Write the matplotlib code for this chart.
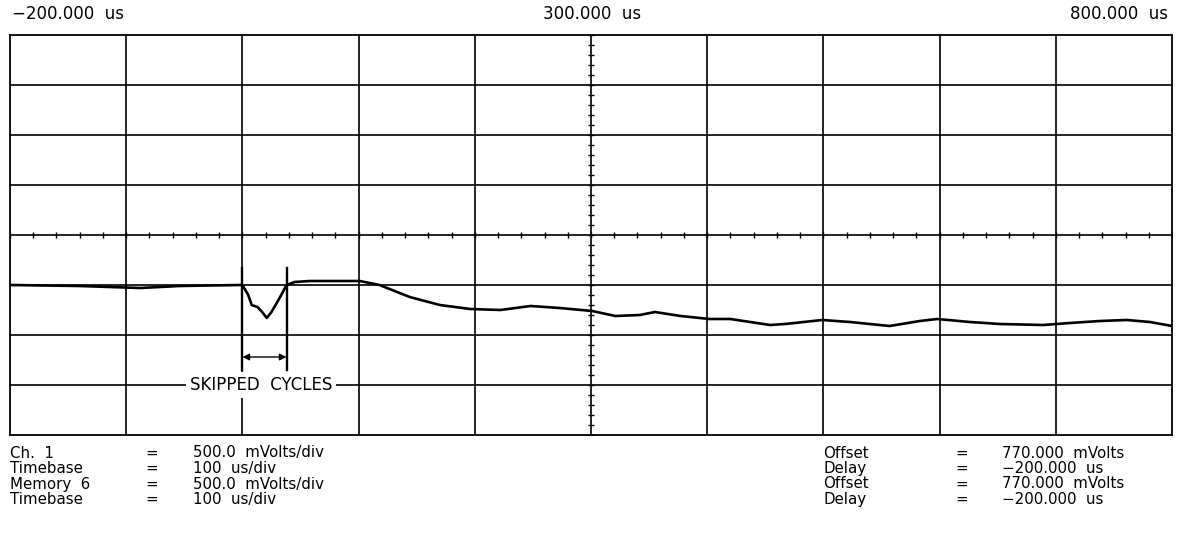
import numpy as np
import matplotlib.pyplot as plt

# trace: time in us, level in mV
t_us = [-200, -140, -88, -54, -2, 0, 5, 8, 13, 17, 21, 25, 32, 38, 45, 58, 84, 101,
        118, 144, 170, 196, 222, 248, 273, 301, 321, 342, 355, 377, 402, 420, 454,
        467, 499, 523, 557, 583, 598, 626, 652, 689, 712, 738, 761, 781, 800]
v_mv = [270, 260, 240, 260, 270, 270, 170, 70, 50, 0, -60, 0, 140, 270, 300, 310, 310, 310,
        270, 150, 70, 30, 20, 60, 40, 10, -40, -30, 0, -40, -70, -70, -130,
        -120, -80, -100, -140, -90, -70, -100, -120, -130, -110, -90, -80, -100, -140]

t_start, t_div = -200.0, 100.0
offset, v_div = 770.0, 500.0
skip_t = [0, 38]

left_rows = [("Ch.  1", "500.0  mVolts/div"), ("Timebase", "100  us/div"),
             ("Memory  6", "500.0  mVolts/div"), ("Timebase", "100  us/div")]
right_rows = [("Offset", "770.000  mVolts"), ("Delay", "\u2212200.000  us"),
              ("Offset", "770.000  mVolts"), ("Delay", "\u2212200.000  us")]

fig = plt.figure(figsize=(11.8, 5.35), dpi=100)
ax = fig.add_axes([10/1180, 100/535, 1162/1180, 400/535])
t0, t1 = t_start, t_start + 10*t_div
v0, v1 = offset - 4*v_div, offset + 4*v_div
ax.set_xlim(t0, t1)
ax.set_ylim(v0, v1)
ax.set_xticks([])
ax.set_yticks([])
for s in ax.spines.values():
    s.set_linewidth(1.3)

lw = 1.2
for k in range(1, 10):
    ax.axvline(t0 + k*t_div, color='k', lw=lw, zorder=1)
for k in range(1, 8):
    ax.axhline(v0 + k*v_div, color='k', lw=lw, zorder=1)

# minor ticks on the centre lines
tc = t0 + 5*t_div
tx = np.arange(t0, t1 + 1, t_div/5)
vy = np.arange(v0, v1 + 1, v_div/5)
ax.plot(tx, np.full(len(tx), offset), '|', color='k', ms=5, mew=1.0, zorder=1)
ax.plot(np.full(len(vy), tc), vy, '_', color='k', ms=5, mew=1.0, zorder=1)

ax.plot(t_us, v_mv, color='k', lw=1.9, zorder=3)

# skipped cycles marker
for t in skip_t:
    ax.plot([t, t], [440, -580], color='k', lw=1.7, zorder=3)
ax.annotate('', xy=(skip_t[0], -450), xytext=(skip_t[1], -450),
            arrowprops=dict(arrowstyle='<|-|>', color='k', lw=1.0,
                            mutation_scale=10, shrinkA=0, shrinkB=0), zorder=3)
fs = 12
ax.text(16, -730, "SKIPPED  CYCLES", ha='center', va='center', fontsize=fs,
        bbox=dict(facecolor='white', edgecolor='none', pad=3), zorder=4)

fig.text(12/1180, 1 - 14/535, "\u2212200.000  us", ha='left', va='center', fontsize=fs)
fig.text(592/1180, 1 - 14/535, "300.000  us", ha='center', va='center', fontsize=fs)
fig.text(1168/1180, 1 - 14/535, "800.000  us", ha='right', va='center', fontsize=fs)

fs2 = 10.8
row_y = [453, 468.5, 484, 499.5]
for (lab, val), y in zip(left_rows, row_y):
    fig.text(10/1180, 1 - y/535, lab, va='center', fontsize=fs2)
    fig.text(145/1180, 1 - y/535, "=", va='center', fontsize=fs2)
    fig.text(193/1180, 1 - y/535, val, va='center', fontsize=fs2)
for (lab, val), y in zip(right_rows, row_y):
    fig.text(823/1180, 1 - y/535, lab, va='center', fontsize=fs2)
    fig.text(955/1180, 1 - y/535, "=", va='center', fontsize=fs2)
    fig.text(1002/1180, 1 - y/535, val, va='center', fontsize=fs2)

fig.savefig('out.png', dpi=100)
